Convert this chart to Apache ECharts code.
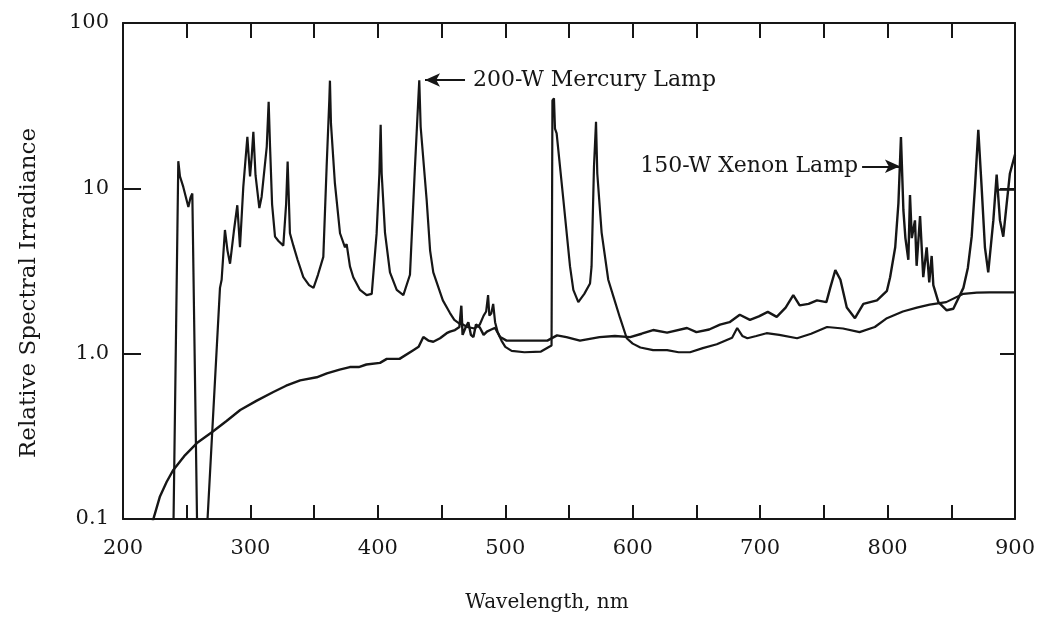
<!DOCTYPE html>
<html>
<head>
<meta charset="utf-8">
<title>Spectral irradiance</title>
<script src="https://cdn.jsdelivr.net/npm/echarts/dist/echarts.min.js"></script>
<style>
  html, body { margin: 0; padding: 0; background: #fff; }
  #myChart { width: 1040px; height: 620px; }
</style>
</head>
<body>
<div id="myChart"></div>
<script>
// wavelength (nm) / relative irradiance
const mercuryNm = [
  239.3, 243.4, 244.7, 247.3, 251.3, 253, 254.4, 258.5, 264.8, 276.1,
  277.4, 280, 282, 284, 287, 289.7, 291.8, 294.4, 297.6, 299.7,
  301, 302.3, 304, 307, 308.8, 312.8, 314.3, 315.4, 317, 319.3,
  322, 325.8, 328, 329.2, 331, 333.7, 337, 341.5, 346, 349.5,
  353, 357.2, 359.8, 361.9, 362.4, 363.2, 366.3, 370.3, 374.2, 375.5,
  378.1, 380.7, 386, 391.2, 395.2, 399, 401.2, 402.2, 403, 405.6,
  409.5, 414.8, 420, 425.2, 429.1, 431.7, 432.5, 433.6, 438.3, 441,
  443.5, 451, 456.6, 460, 464, 467, 470, 476, 480, 483,
  485, 486.5, 487.5, 489, 490.5, 492, 494, 497, 500, 505,
  515, 528, 533.5, 536.3, 537, 538.2, 539, 540.3, 545.6, 550.8,
  553.4, 557.3, 562, 566.5, 567.7, 569.6, 571.2, 572.2, 575.6, 580.8,
  585, 590, 595.3, 600, 606, 616, 627, 636, 645, 655,
  666, 678, 682, 686, 690, 697, 705, 715, 729, 740,
  752.5, 765, 778, 790, 799.5, 812, 823, 833, 846, 859.5,
  870, 880, 900
];
const mercuryVal = [
  0.06, 14.6, 11.8, 10.2, 7.7, 8.8, 9.3, 0.06, 0.06, 2.5,
  2.8, 5.6, 4.2, 3.5, 5.5, 7.9, 4.4, 10.2, 20.5, 11.8,
  15.5, 22, 12, 7.6, 8.9, 17.8, 33.4, 17.9, 8, 5.1,
  4.8, 4.5, 8, 14.5, 5.35, 4.5, 3.7, 2.9, 2.6, 2.5,
  3.0, 3.85, 13.5, 34.2, 44.8, 24.7, 10.7, 5.35, 4.4, 4.6,
  3.37, 2.9, 2.43, 2.26, 2.3, 5.3, 12.3, 24.2, 12.3, 5.4,
  3.1, 2.43, 2.26, 3.0, 13.4, 34, 45, 23.5, 8.5, 4.2,
  3.1, 2.1, 1.76, 1.6, 1.52, 1.5, 1.45, 1.42, 1.5, 1.7,
  1.8, 2.26, 1.7, 1.75, 2.0, 1.55, 1.35, 1.2, 1.1, 1.04,
  1.02, 1.03, 1.09, 1.12, 34, 35, 23, 21.5, 8.5, 3.37,
  2.43, 2.05, 2.3, 2.66, 3.37, 13.5, 25.3, 12.3, 5.4, 2.8,
  2.2, 1.65, 1.24, 1.15, 1.09, 1.05, 1.05, 1.02, 1.02, 1.08,
  1.14, 1.25, 1.43, 1.28, 1.24, 1.28, 1.33, 1.3, 1.24, 1.32,
  1.45, 1.42, 1.35, 1.45, 1.64, 1.8, 1.9, 1.98, 2.05, 2.3,
  2.34, 2.35, 2.35
];

const xenonNm = [
  223, 229, 234.3, 239.5, 248, 258, 270, 281, 292, 305,
  318, 328, 339, 352, 360, 370, 378, 385, 391, 401.7,
  407, 417, 427.8, 432, 435.7, 439.6, 443.5, 448.8, 454, 456.6,
  460.5, 464, 465.5, 466.5, 469, 471, 473, 475, 477, 480,
  483, 485.6, 489, 492, 496, 501, 515, 533, 540.6, 548,
  558.6, 574, 586, 598, 607, 616, 627, 642.6, 650, 660,
  668.5, 676, 684, 692, 699, 706, 713, 720, 726, 731,
  738, 744.6, 752, 755, 759, 763, 768, 774.4, 781, 791.7,
  799.5, 802, 806, 808.5, 810.5, 811.8, 812.4, 814, 816.3, 817.6,
  819, 821.5, 822.8, 825.5, 828, 830.7, 832.7, 834.6, 835.9, 839.9,
  846.4, 851.6, 859.5, 863, 866, 868.6, 871.2, 873.8, 876.4, 879,
  883, 885.6, 888.2, 890.8, 893.5, 896, 900
];
const xenonVal = [
  0.095, 0.137, 0.168, 0.198, 0.24, 0.288, 0.336, 0.39, 0.456, 0.52,
  0.586, 0.64, 0.69, 0.72, 0.76, 0.8, 0.83, 0.83, 0.86, 0.88,
  0.93, 0.93, 1.05, 1.1, 1.26, 1.2, 1.18, 1.24, 1.33, 1.36,
  1.39, 1.45, 1.95, 1.3, 1.45, 1.55, 1.3, 1.26, 1.5, 1.44,
  1.3, 1.36, 1.4, 1.43, 1.26, 1.2, 1.2, 1.2, 1.29, 1.26,
  1.2, 1.26, 1.28, 1.26, 1.32, 1.39, 1.34, 1.43, 1.35, 1.4,
  1.5, 1.55, 1.72, 1.6, 1.68, 1.79, 1.67, 1.9, 2.26, 1.96,
  2.0, 2.1, 2.05, 2.5, 3.2, 2.8, 1.9, 1.64, 2.0, 2.1,
  2.4, 2.9, 4.4, 8.1, 20.4, 10.2, 7.4, 5, 3.7, 9.1,
  5, 6.4, 3.4, 6.8, 2.9, 4.4, 2.7, 3.9, 2.6, 2.05,
  1.83, 1.87, 2.5, 3.3, 5.1, 10.2, 22.6, 10.2, 4.4, 3.1,
  6.4, 12.1, 6.4, 5.1, 8.1, 12.3, 16
];

// short flat stroke drawn at the far right of the xenon trace
const xenonStubNm = [886, 900];
const xenonStubVal = [9.8, 9.8];

// annotation arrows: [tail, head] in data coords
const mercuryArrow = [[468.4, 45.2], [437, 45.2]];
const xenonArrow = [[780, 13.6], [809.7, 13.6]];

const xTicks = { min: 200, max: 900, interval: 50 };
const yRange = { min: 0.1, max: 100 };

const FONT = "DejaVu Serif";
const INK = "#161616";

const zip = (xs, ys) => xs.map((x, i) => [x, ys[i]]);

const arrowMark = (pts, text, dist) => ({
  silent: true,
  symbol: ["none", "arrow"],
  symbolSize: [10, 15],
  lineStyle: { color: INK, width: 2, type: "solid" },
  label: {
    show: true,
    position: "start",
    distance: dist,
    formatter: text,
    color: INK,
    fontFamily: FONT,
    fontSize: 22,
  },
  data: [[{ coord: pts[0] }, { coord: pts[1] }]],
});

const options = {
  animation: false,
  backgroundColor: "#fff",
  grid: { left: 123, right: 25, top: 23, bottom: 101 },
  xAxis: [
    {
      type: "value",
      position: "bottom",
      min: xTicks.min,
      max: xTicks.max,
      interval: xTicks.interval,
      name: "Wavelength, nm",
      nameLocation: "middle",
      nameGap: 74,
      nameTextStyle: {
        color: INK,
        fontFamily: FONT,
        fontSize: 20,
        padding: [0, 44, 0, 0],
      },
      axisLine: { lineStyle: { color: INK, width: 2 } },
      axisTick: { inside: true, length: 14, lineStyle: { color: INK, width: 2 } },
      axisLabel: {
        margin: 19,
        color: INK,
        fontFamily: FONT,
        fontSize: 21,
        formatter: (v) => (v % 100 === 0 ? String(v) : ""),
      },
      splitLine: { show: false },
    },
    {
      type: "value",
      position: "top",
      min: xTicks.min,
      max: xTicks.max,
      interval: xTicks.interval,
      axisLine: { lineStyle: { color: INK, width: 2 } },
      axisTick: { inside: true, length: 15, lineStyle: { color: INK, width: 2 } },
      axisLabel: { show: false },
      splitLine: { show: false },
    },
  ],
  yAxis: [
    {
      type: "log",
      logBase: 10,
      position: "left",
      min: yRange.min,
      max: yRange.max,
      name: "Relative Spectral Irradiance",
      nameLocation: "middle",
      nameGap: 82,
      nameTextStyle: {
        color: INK,
        fontFamily: FONT,
        fontSize: 23,
        padding: [0, 44, 0, 0],
      },
      axisLine: { lineStyle: { color: INK, width: 2 } },
      axisTick: { inside: true, length: 18, lineStyle: { color: INK, width: 2 } },
      axisLabel: {
        margin: 14,
        color: INK,
        fontFamily: FONT,
        fontSize: 21,
        formatter: (v) => (Math.abs(v - 1) < 1e-9 ? "1.0" : String(+v.toPrecision(3))),
      },
      splitLine: { show: false },
    },
    {
      type: "log",
      logBase: 10,
      position: "right",
      min: yRange.min,
      max: yRange.max,
      axisLine: { lineStyle: { color: INK, width: 2 } },
      axisTick: { inside: true, length: 15, lineStyle: { color: INK, width: 2 } },
      axisLabel: { show: false },
      splitLine: { show: false },
    },
  ],
  series: [
    {
      name: "200-W Mercury Lamp",
      type: "line",
      data: zip(mercuryNm, mercuryVal),
      showSymbol: false,
      smooth: false,
      clip: true,
      lineStyle: { color: INK, width: 2.2 },
      markLine: arrowMark(mercuryArrow, "200-W Mercury Lamp", 8),
    },
    {
      name: "150-W Xenon Lamp",
      type: "line",
      data: zip(xenonNm, xenonVal),
      showSymbol: false,
      smooth: false,
      clip: true,
      lineStyle: { color: INK, width: 2.4 },
      markLine: arrowMark(xenonArrow, "150-W Xenon Lamp", 4),
    },
    {
      name: "xenon stub",
      type: "line",
      data: zip(xenonStubNm, xenonStubVal),
      showSymbol: false,
      clip: true,
      lineStyle: { color: INK, width: 2 },
    },
  ],
};

const depthChart = echarts.init(document.getElementById("myChart"), null, { renderer: "canvas" });
depthChart.setOption(options);
</script>
</body>
</html>
